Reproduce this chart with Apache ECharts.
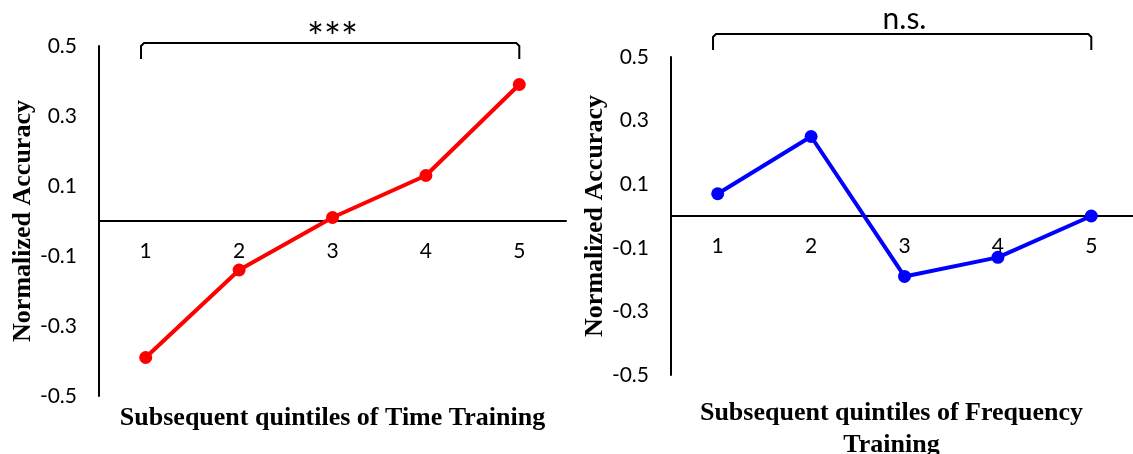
<!DOCTYPE html>
<html>
<head>
<meta charset="utf-8">
<script src="https://cdn.jsdelivr.net/npm/echarts@6/dist/echarts.min.js"></script>
<style>
  html, body { margin: 0; padding: 0; background: #fff; }
  #chart { width: 1133px; height: 454px; }
</style>
</head>
<body>
<div id="chart"></div>
<script>
// Quintile categories shared by both panels
const quintiles = ['1', '2', '3', '4', '5'];
// Normalized accuracy per quintile
const timeAccuracy = [-0.39, -0.14, 0.01, 0.13, 0.39];
const freqAccuracy = [0.07, 0.25, -0.19, -0.13, 0.0];
// Accuracy axis range and tick step
const accuracyMin = -0.5;
const accuracyMax = 0.5;
const accuracyStep = 0.2;
// Text
const accuracyTitle = 'Normalized Accuracy';
const timeTitle = 'Subsequent quintiles of Time Training';
const freqTitle = 'Subsequent quintiles of Frequency\nTraining';
const timeSignificance = '***';
const freqSignificance = 'n.s.';

const TICK_FONT = 'Lato, "Open Sans", sans-serif';
const TITLE_FONT = '"Liberation Serif", "DejaVu Serif", serif';

// Panel geometry
const panels = [
  { left: 99, top: 46, width: 467, height: 350 },
  { left: 671, top: 57, width: 467, height: 318 }
];

// Bracket from the first to the last quintile, drawn relative to the top of the
// accuracy axis, with the significance label centred above it
function bracketRenderer(label, opts) {
  return function (params, api) {
    const band = api.size([1, 0])[0];
    const a = api.coord([api.value(0), accuracyMax]);
    const b = api.coord([api.value(1), accuracyMax]);
    const top = a[1] - opts.rise;
    const foot = top + opts.drop;
    const x0 = a[0] - band * 0.05;
    const x1 = b[0];
    return {
      type: 'group',
      children: [
        {
          type: 'polyline',
          shape: { points: [[x0, foot], [x0, top + 3], [x0 + 3, top], [x1 - 3, top], [x1, top + 3], [x1, foot]] },
          style: { stroke: '#000', lineWidth: 2, fill: null }
        },
        {
          type: 'text',
          style: {
            text: label,
            x: (a[0] + b[0]) / 2,
            y: top - opts.lift,
            align: 'center',
            verticalAlign: 'bottom',
            font: opts.fontSize + 'px ' + TICK_FONT,
            fill: '#000'
          }
        }
      ]
    };
  };
}

function xAxisFor(i, title, namePad, nameGap) {
  return {
    gridIndex: i,
    type: 'category',
    data: quintiles,
    boundaryGap: true,
    axisLine: { onZero: true, lineStyle: { color: '#000', width: 2 } },
    axisTick: { show: false },
    // labels sit just under the zero line
    axisLabel: { margin: 20 - panels[i].height / 2, fontFamily: TICK_FONT, fontSize: 21, color: '#000' },
    splitLine: { show: false },
    name: title,
    nameLocation: 'middle',
    nameGap: nameGap,
    nameTextStyle: {
      fontFamily: TITLE_FONT, fontWeight: 'bold', fontSize: 26, color: '#000',
      lineHeight: 32, padding: namePad
    }
  };
}

function yAxisFor(i) {
  return {
    gridIndex: i,
    type: 'value',
    min: accuracyMin,
    max: accuracyMax,
    interval: accuracyStep,
    axisLine: { show: true, lineStyle: { color: '#000', width: 2 } },
    axisTick: { show: false },
    splitLine: { show: false },
    axisLabel: {
      margin: 22, fontFamily: TICK_FONT, fontSize: 21, color: '#000',
      formatter: v => v.toFixed(1)
    },
    name: accuracyTitle,
    nameLocation: 'middle',
    nameGap: 63,
    nameTextStyle: { fontFamily: TITLE_FONT, fontWeight: 'bold', fontSize: 26, color: '#000' }
  };
}

function lineSeries(i, values, color) {
  return {
    type: 'line',
    xAxisIndex: i,
    yAxisIndex: i,
    data: values,
    symbol: 'circle',
    symbolSize: 13,
    showAllSymbol: true,
    lineStyle: { color: color, width: 4 },
    itemStyle: { color: color },
    z: 3
  };
}

function bracketSeries(i, label, opts) {
  return {
    type: 'custom',
    xAxisIndex: i,
    yAxisIndex: i,
    silent: true,
    clip: false,
    encode: { x: [0, 1] },
    data: [[0, quintiles.length - 1]],
    renderItem: bracketRenderer(label, opts)
  };
}

const chart = echarts.init(document.getElementById('chart'), null, { renderer: 'canvas' });
chart.setOption({
  animation: false,
  backgroundColor: '#fff',
  grid: panels.map(p => Object.assign({ containLabel: false, outerBoundsMode: 'none' }, p)),
  xAxis: [xAxisFor(0, timeTitle, [0, 0, 0, 0], 6), xAxisFor(1, freqTitle, [0, 26, 0, 0], 22)],
  yAxis: [yAxisFor(0), yAxisFor(1)],
  series: [
    lineSeries(0, timeAccuracy, '#ff0000'),
    lineSeries(1, freqAccuracy, '#0000ff'),
    bracketSeries(0, timeSignificance, { rise: 3, drop: 16, lift: -16, fontSize: 40 }),
    bracketSeries(1, freqSignificance, { rise: 23, drop: 16, lift: 0, fontSize: 30 })
  ]
});
</script>
</body>
</html>
